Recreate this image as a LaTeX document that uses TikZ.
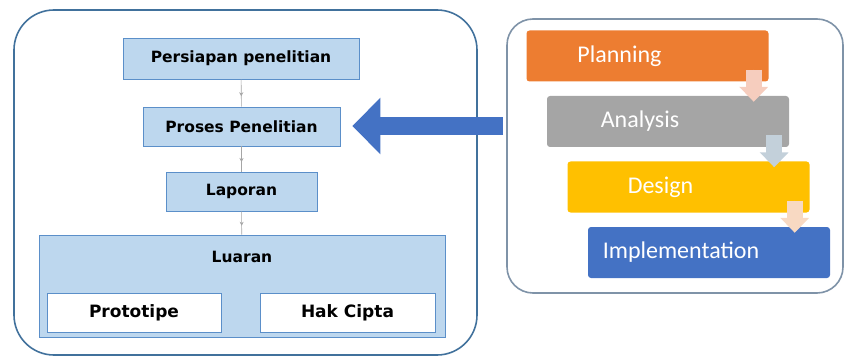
\documentclass[tikz,border=0pt]{standalone}
\usepackage{fontspec}
\setmainfont{DejaVu Sans}
\newfontfamily\calibrifont{Carlito}
\usepackage{xcolor}
\usetikzlibrary{arrows.meta, positioning, decorations.markings}

\definecolor{frameblue}{HTML}{41719C}
\definecolor{framegray}{HTML}{7F93A8}
\definecolor{boxfill}{HTML}{BDD7EE}
\definecolor{boxline}{HTML}{5B8FC9}
\definecolor{bigarrow}{HTML}{4472C4}
\definecolor{planorange}{HTML}{ED7D31}
\definecolor{analgray}{HTML}{A5A5A5}
\definecolor{desyellow}{HTML}{FFC000}
\definecolor{implblue}{HTML}{4472C4}
\definecolor{downpink}{HTML}{F6CDBE}
\definecolor{downgray}{HTML}{C3D0DA}
\definecolor{downpeach}{HTML}{F8D9C2}

\tikzset{
  frame/.style={line width=1.6pt, rounded corners=#1},
  stepbox/.style={draw=boxline, fill=boxfill, line width=0.8pt, inner sep=0pt,
    font=\bfseries\fontsize{15.5}{18}\selectfont},
  outbox/.style={draw=boxline, fill=white, line width=0.8pt, inner sep=0pt,
    font=\bfseries\fontsize{17}{19}\selectfont},
  flowline/.style={draw=gray!70, line width=0.6pt,
    postaction={decorate},
    decoration={markings, mark=at position 0.62 with {\arrow{Stealth[length=4pt,width=4pt]}}}},
  phase/.style={rounded corners=3pt, inner sep=0pt, minimum width=242pt,
    minimum height=51pt, text=white, font=\calibrifont\fontsize{24}{28}\selectfont},
  downarrow/.style={line width=16pt, -{Triangle[length=15pt, width=28pt]}}
}

\begin{document}
\begin{tikzpicture}[x=1pt, y=-1pt]
    \useasboundingbox (0,0) rectangle (845,358);

    % Frames
    \draw[frame=40pt, draw=frameblue] (14,10) rectangle (477,355);
    \draw[frame=26pt, draw=framegray] (507,19) rectangle (843,293);
    \coordinate (rframe) at (507,126);

    % Research steps
    \node[stepbox, minimum width=236pt, minimum height=41pt] (persiapan) at (241,58.5)
      {Persiapan penelitian};
    \node[stepbox, minimum width=197pt, minimum height=39pt] (proses) at (241.5,126.5)
      {Proses Penelitian};
    \node[stepbox, minimum width=151pt, minimum height=39pt] (laporan) at (241.5,191.5)
      {Laporan};
    \node[stepbox, minimum width=406pt, minimum height=102pt] (luaran) at (242,286) {};
    \node[font=\bfseries\fontsize{15.5}{18}\selectfont] (luarantext) at (242,257) {Luaran};
    \node[outbox, minimum width=174pt, minimum height=39pt] (prototipe) at (134,312.5)
      {Prototipe};
    \node[outbox, minimum width=175pt, minimum height=39pt] (hakcipta) at (347.5,312.5)
      {Hak Cipta};

    \path[flowline] (persiapan) -- (proses);
    \path[flowline] (proses) -- (laporan);
    \path[flowline] (laporan) -- (luaran);

    % Big arrow
    \draw[bigarrow, line width=18pt, shorten >=12pt, shorten <=4pt,
      -{Triangle[length=28pt, width=55pt]}] (rframe) -- (proses.east |- rframe);

    % Waterfall phases
    \foreach \name/\txt/\col [count=\i from 0] in
      {planning/Planning/planorange, analysis/Analysis/analgray,
       design/Design/desyellow, implementation/Implementation/implblue}
      \node[phase, fill=\col, text width=242pt, align=center]
        (\name) at (647.5+20.5*\i, 56+65.5*\i)
        {\hspace*{-56pt}\txt};

    % Small step arrows
    \foreach \a/\b/\col in {planning/analysis/downpink, analysis/design/downgray,
                            design/implementation/downpeach}
      \draw[downarrow, draw=\col, fill=\col]
        ([xshift=-15pt, yshift=12pt]\a.south east) --
        ([xshift=-15pt, yshift=-6pt]\a.south east |- \b.north);
\end{tikzpicture}
\end{document}
